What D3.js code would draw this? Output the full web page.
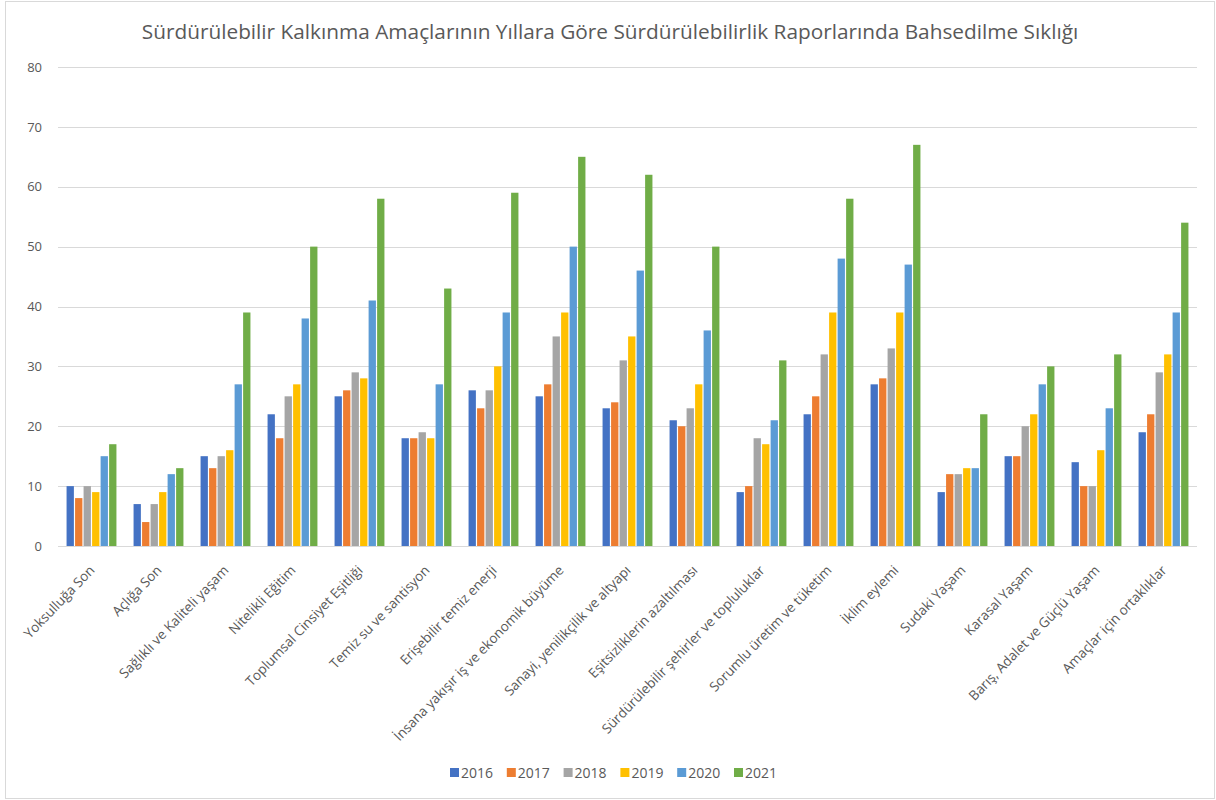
<!DOCTYPE html>
<html>
<head>
<meta charset="utf-8">
<script src="https://cdn.jsdelivr.net/npm/d3@7"></script>
<style>
  html, body { margin: 0; padding: 0; background: #fff; }
  svg { display: block; }
  text { font-family: "Open Sans", Lato, sans-serif; fill: #595959; }
</style>
</head>
<body>
<svg id="chart" width="1216" height="800"></svg>
<script>
// Sustainable Development Goals mentioned in sustainability reports, per year
const categories = [
  "Yoksulluğa Son",
  "Açlığa Son",
  "Sağlıklı ve Kaliteli yaşam",
  "Nitelikli Eğitim",
  "Toplumsal Cinsiyet Eşitliği",
  "Temiz su ve santisyon",
  "Erişebilir temiz enerji",
  "İnsana yakışır iş ve ekonomik büyüme",
  "Sanayi, yenilikçilik ve altyapı",
  "Eşitsizliklerin azaltılması",
  "Sürdürülebilir şehirler ve topluluklar",
  "Sorumlu üretim ve tüketim",
  "İklim eylemi",
  "Sudaki Yaşam",
  "Karasal Yaşam",
  "Barış, Adalet ve Güçlü Yaşam",
  "Amaçlar için ortaklıklar"
];
const years = ["2016", "2017", "2018", "2019", "2020", "2021"];
const values2016 = [10, 7, 15, 22, 25, 18, 26, 25, 23, 21, 9, 22, 27, 9, 15, 14, 19];
const values2017 = [8, 4, 13, 18, 26, 18, 23, 27, 24, 20, 10, 25, 28, 12, 15, 10, 22];
const values2018 = [10, 7, 15, 25, 29, 19, 26, 35, 31, 23, 18, 32, 33, 12, 20, 10, 29];
const values2019 = [9, 9, 16, 27, 28, 18, 30, 39, 35, 27, 17, 39, 39, 13, 22, 16, 32];
const values2020 = [15, 12, 27, 38, 41, 27, 39, 50, 46, 36, 21, 48, 47, 13, 27, 23, 39];
const values2021 = [17, 13, 39, 50, 58, 43, 59, 65, 62, 50, 31, 58, 67, 22, 30, 32, 54];
const yTicks = [0, 10, 20, 30, 40, 50, 60, 70, 80];
const colors = ["#4472C4", "#ED7D31", "#A5A5A5", "#FFC000", "#5B9BD5", "#70AD47"];
const title = "Sürdürülebilir Kalkınma Amaçlarının Yıllara Göre Sürdürülebilirlik Raporlarında Bahsedilme Sıklığı";

const seriesValues = [values2016, values2017, values2018, values2019, values2020, values2021];
const rows = categories.map((c, i) => ({
  category: c,
  values: years.map((y, j) => ({ year: y, value: seriesValues[j][i], color: colors[j] }))
}));

const svg = d3.select("#chart");
const W = 1216, H = 800;
const plot = { left: 58, right: 1197, top: 67, bottom: 546 };

// outer chart border
svg.append("rect")
  .attr("x", 5.5).attr("y", 1.5).attr("width", W - 7).attr("height", H - 3)
  .attr("fill", "#fff").attr("stroke", "#d9d9d9").attr("stroke-width", 1);

const x = d3.scaleBand().domain(categories).range([plot.left, plot.right]).paddingInner(0.22).paddingOuter(0.11);
const xs = d3.scaleBand().domain(years).range([0, x.bandwidth()]).padding(0.14);
const y = d3.scaleLinear().domain([0, 80]).range([plot.bottom, plot.top]);

// horizontal gridlines
svg.append("g")
  .selectAll("line").data(yTicks).join("line")
  .attr("x1", plot.left).attr("x2", plot.right)
  .attr("y1", d => Math.round(y(d)) + 0.5).attr("y2", d => Math.round(y(d)) + 0.5)
  .attr("stroke", "#d9d9d9").attr("stroke-width", 1);

// y axis labels
const yAxis = d3.axisLeft(y).tickValues(yTicks).tickSize(0).tickPadding(0);
const gy = svg.append("g").attr("transform", `translate(${plot.left - 16},0)`).call(yAxis);
gy.select(".domain").remove();
gy.selectAll("text").style("font-size", "13px").attr("fill", "#595959").style("font-family", "'Open Sans', sans-serif");

// bars
const groups = svg.append("g").selectAll("g").data(rows).join("g")
  .attr("transform", d => `translate(${x(d.category)},0)`);
groups.selectAll("rect").data(d => d.values).join("rect")
  .attr("x", d => xs(d.year))
  .attr("width", xs.bandwidth())
  .attr("y", d => y(d.value))
  .attr("height", d => y(0) - y(d.value))
  .attr("fill", d => d.color);

// category labels, rotated
const xAxis = d3.axisBottom(x).tickSize(0).tickPadding(0);
const gx = svg.append("g").attr("transform", `translate(0,${plot.bottom})`).call(xAxis);
gx.select(".domain").remove();
gx.selectAll("text")
  .style("font-size", "13.5px").style("font-family", "'Open Sans', sans-serif").attr("fill", "#595959")
  .attr("text-anchor", "end")
  .attr("dy", null).attr("y", 0)
  .attr("transform", "translate(4,25) rotate(-46)");

// title
svg.append("text")
  .attr("x", 610).attr("y", 39)
  .attr("text-anchor", "middle")
  .style("font-size", "20.8px")
  .text(title);

// legend
const legend = svg.append("g").attr("transform", "translate(450,768)");
const item = legend.selectAll("g").data(years).join("g")
  .attr("transform", (d, i) => `translate(${i * 56.8},0)`);
item.append("rect").attr("width", 9).attr("height", 9).attr("fill", (d, i) => colors[i]);
item.append("text").attr("x", 11).attr("y", 9.5).style("font-size", "14px").text(d => d);
</script>
</body>
</html>
